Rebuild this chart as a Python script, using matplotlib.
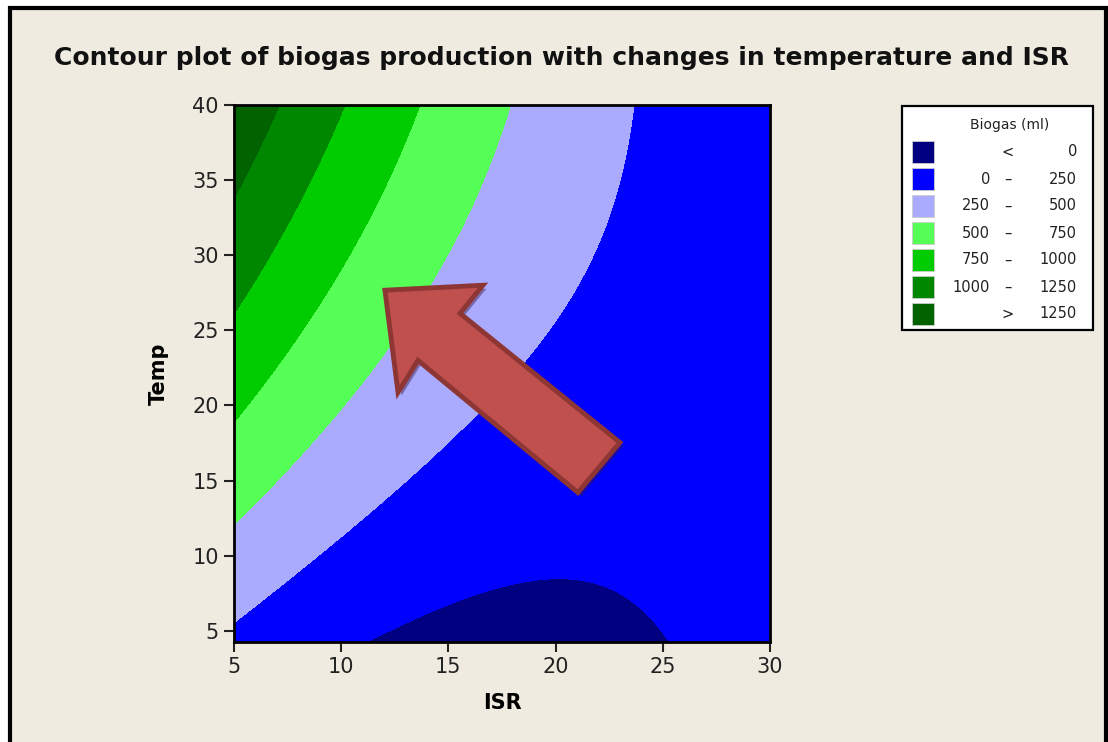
import numpy as np
import matplotlib
matplotlib.use("Agg")
import matplotlib.pyplot as plt
from matplotlib.patches import Rectangle, Polygon
import matplotlib.patheffects as pe

# Fitted response surface: Biogas = b0 + b1*ISR + b2*Temp + b11*ISR^2 + b22*Temp^2 + b12*ISR*Temp
coef_terms = ["const", "ISR", "Temp", "ISR*ISR", "Temp*Temp", "ISR*Temp"]
coef_values = [247.14, -51.682, 48.041, 1.58298, -0.138485, -1.43774]

isr_range = [5, 30]
temp_range = [4.25, 40]
contour_levels = [0, 250, 500, 750, 1000, 1250]
level_colors = ["#000080", "#0000FF", "#AAAAFF", "#55FF55", "#00CC00", "#008700", "#006300"]
x_ticks = [5, 10, 15, 20, 25, 30]
y_ticks = [5, 10, 15, 20, 25, 30, 35, 40]

W, H = 1108, 742
BG = "#EFEBE1"


def fx(p):
    return p / W


def fy(p):
    return 1 - p / H


fig = plt.figure(figsize=(W / 100, H / 100), dpi=100, facecolor="white")

# outer panel with black border (bottom edge runs off the canvas)
fig.patches.append(Rectangle((fx(10), fy(760)), fx(1096), (760 - 8) / H,
                             transform=fig.transFigure, facecolor=BG,
                             edgecolor="black", linewidth=3.0, zorder=-10))

fig.text(fx(562), fy(58), "Contour plot of biogas production with changes in temperature and ISR",
         ha="center", va="center", fontsize=18, fontweight="bold", color="#111111")

ax = fig.add_axes([fx(234), fy(642), fx(770) - fx(234), fy(105) - fy(642)])
b0, b1, b2, b11, b22, b12 = coef_values
gx = np.linspace(isr_range[0], isr_range[1], 600)
gy = np.linspace(temp_range[0], temp_range[1], 600)
X, Y = np.meshgrid(gx, gy)
Z = b0 + b1 * X + b2 * Y + b11 * X * X + b22 * Y * Y + b12 * X * Y
bounds = [-1e9] + contour_levels + [1e9]
ax.contourf(X, Y, Z, levels=bounds, colors=level_colors, antialiased=False)

ax.set_xlim(*isr_range)
ax.set_ylim(*temp_range)
ax.set_xticks(x_ticks)
ax.set_yticks(y_ticks)
ax.tick_params(axis="both", direction="out", length=7, width=1.5, labelsize=15,
               colors="#222222", pad=4)
for s in ax.spines.values():
    s.set_linewidth(2)
    s.set_color("black")
ax.set_xlabel("ISR", fontsize=15, fontweight="bold", labelpad=11)
ax.set_ylabel("Temp", fontsize=15, fontweight="bold", labelpad=17)

# direction arrow
arrow_pts = [(12.04, 27.67), (16.61, 28.0), (15.54, 26.13), (23.0, 17.53),
             (21.04, 14.2), (13.58, 23.0), (12.65, 20.87)]
arrow = Polygon(arrow_pts, closed=True, facecolor="#C0504D", edgecolor="#8E3634",
                linewidth=3.5, joinstyle="miter", zorder=5)
arrow.set_path_effects([pe.SimplePatchShadow(offset=(2.5, -2.5), shadow_rgbFace="#3a1a40",
                                             alpha=0.45), pe.Normal()])
ax.add_patch(arrow)

# legend panel
fig.patches.append(Rectangle((fx(902), fy(330)), fx(1093) - fx(902), fy(106) - fy(330),
                             transform=fig.transFigure, facecolor="white",
                             edgecolor="black", linewidth=1.6, zorder=1))
fig.text(fx(1010), fy(125), "Biogas (ml)", ha="center", va="center", fontsize=10,
         color="#222222")
row_y0, row_dy = 152, 27
labels = [("", "<", str(contour_levels[0]))]
for lo, hi in zip(contour_levels[:-1], contour_levels[1:]):
    labels.append((str(lo), "\u2013", str(hi)))
labels.append(("", ">", str(contour_levels[-1])))
for i, (col, (lo, mid, hi)) in enumerate(zip(level_colors, labels)):
    yc = row_y0 + i * row_dy
    fig.patches.append(Rectangle((fx(912), fy(yc + 11)), fx(22), 22 / H,
                                 transform=fig.transFigure, facecolor=col,
                                 edgecolor="#cccccc", linewidth=0.6, zorder=2))
    kw = dict(va="center", fontsize=10.5, color="#222222")
    fig.text(fx(990), fy(yc), lo, ha="right", **kw)
    fig.text(fx(1008), fy(yc), mid, ha="center", **kw)
    fig.text(fx(1077), fy(yc), hi, ha="right", **kw)

fig.savefig("out.png", facecolor="white")
